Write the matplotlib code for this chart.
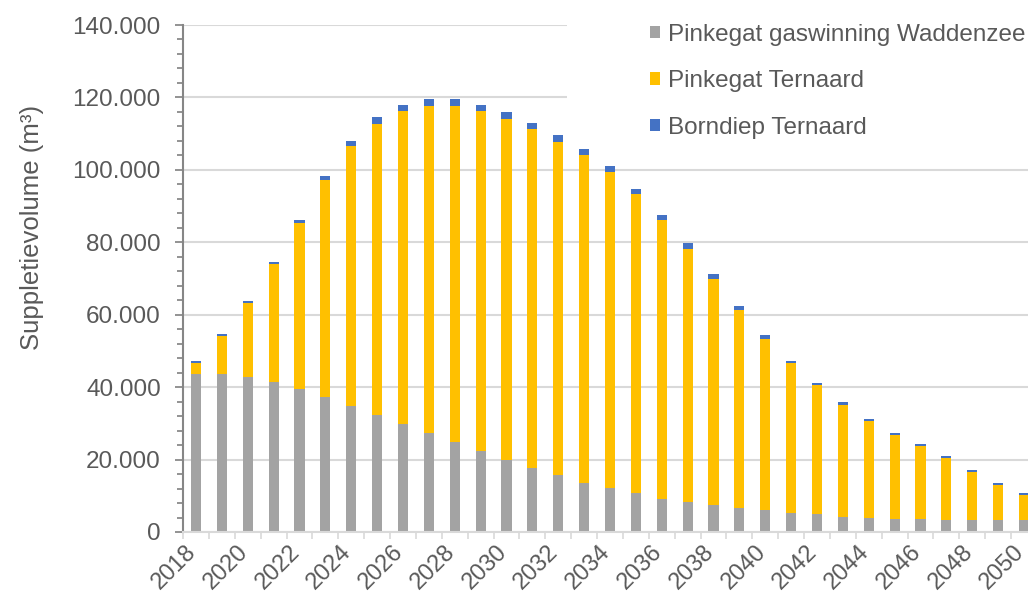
import matplotlib
matplotlib.use("Agg")
import matplotlib.pyplot as plt
import matplotlib.transforms as mtransforms
import numpy as np
from matplotlib.ticker import FuncFormatter, MultipleLocator, FixedLocator
from matplotlib.patches import Rectangle

plt.rcParams["font.family"] = ["Liberation Sans", "DejaVu Sans"]

# Data (m3)
years = list(range(2018, 2051))
pinkegat_gas = [43600, 43500, 42900, 41400, 39600, 37200, 34700, 32300, 29800, 27300,
                24900, 22400, 19900, 17800, 15700, 13500, 12100, 10700, 9200, 8200,
                7400, 6700, 6100, 5200, 4900, 4200, 4000, 3600, 3600, 3300,
                3300, 3300, 3300]
pinkegat_ternaard = [3200, 10700, 20400, 32600, 45700, 59900, 72000, 80400, 86400, 90300,
                     92700, 93800, 94200, 93400, 92000, 90600, 87200, 82500, 76900, 70000,
                     62500, 54600, 47100, 41400, 35600, 31000, 26700, 23300, 20200, 17200,
                     13400, 9800, 7000]
borndiep_ternaard = [300, 400, 400, 500, 800, 1100, 1400, 1800, 1800, 1900,
                     1900, 1800, 1800, 1800, 1800, 1600, 1800, 1500, 1500, 1600,
                     1400, 1100, 1200, 500, 600, 600, 500, 400, 400, 500,
                     400, 400, 500]
series_names = ["Pinkegat gaswinning Waddenzee", "Pinkegat Ternaard", "Borndiep Ternaard"]
colors = ["#A3A3A3", "#FFC000", "#4472C4"]

txt = "#595959"
W, H = 1028, 601
fig = plt.figure(figsize=(W / 100, H / 100), dpi=100)
ax = fig.add_axes([183 / W, 69 / H, (1037 - 183) / W, (532 - 25) / H])

x = np.arange(len(years))
g = np.array(pinkegat_gas)
yel = np.array(pinkegat_ternaard)
b = np.array(borndiep_ternaard)
bw = 0.39
ax.bar(x, g, bw, color=colors[0], label=series_names[0], zorder=2)
ax.bar(x, yel, bw, bottom=g, color=colors[1], label=series_names[1], zorder=2)
ax.bar(x, b, bw, bottom=g + yel, color=colors[2], label=series_names[2], zorder=2)

ax.set_xlim(-0.5, len(years) - 0.5)
ax.set_ylim(0, 140000)

# y axis
ax.yaxis.set_major_locator(MultipleLocator(20000))
ax.yaxis.set_minor_locator(MultipleLocator(4000))
ax.yaxis.set_major_formatter(FuncFormatter(lambda v, p: f"{int(v):,}".replace(",", ".")))
ax.tick_params(axis="y", which="major", length=6, width=1.2, color="#808080",
               labelsize=17.5, labelcolor=txt, pad=10)
ax.tick_params(axis="y", which="minor", length=4, width=1.2, color="#808080")
ax.grid(axis="y", which="major", color="#D9D9D9", linewidth=1.5)
ax.set_axisbelow(True)

# x axis: ticks between categories, labels every other year
ax.xaxis.set_minor_locator(FixedLocator(np.arange(-0.5, len(years), 1.0)))
ax.xaxis.set_major_locator(FixedLocator(x[::2]))
ax.set_xticklabels([str(y) for y in years[::2]], rotation=45, ha="right",
                   rotation_mode="anchor", va="center")
ax.tick_params(axis="x", which="major", length=0, labelsize=17, labelcolor=txt, pad=12)
ax.tick_params(axis="x", which="minor", length=5, width=1.2, color="#D9D9D9")
shift = mtransforms.ScaledTranslation(-3 / 100, 0, fig.dpi_scale_trans)
for lbl in ax.get_xticklabels():
    lbl.set_transform(lbl.get_transform() + shift)

for s in ["top", "right"]:
    ax.spines[s].set_visible(False)
ax.spines["left"].set_color("#868686")
ax.spines["left"].set_linewidth(1.5)
ax.spines["bottom"].set_color("#D9D9D9")
ax.spines["bottom"].set_linewidth(1.5)

ax.set_ylabel("Suppletievolume (m³)", fontsize=18.5, color=txt)
ax.yaxis.set_label_coords(-0.163, 0.6)

# white legend area hiding the gridlines behind it
ax.add_patch(Rectangle((567 / W, 1 - 145 / H), 1 - 567 / W, 145 / H,
                       transform=fig.transFigure, facecolor="white", edgecolor="none",
                       zorder=1, clip_on=False))

leg = ax.legend(loc="upper left", bbox_to_anchor=(650 / W, 1 - 24 / H),
                bbox_transform=fig.transFigure, frameon=False, fontsize=17.5,
                handlelength=0.4, handleheight=0.4, handletextpad=0.35,
                labelspacing=1.0, borderpad=0, borderaxespad=0)
for t in leg.get_texts():
    t.set_color(txt)

fig.savefig("out.png", dpi=100)
